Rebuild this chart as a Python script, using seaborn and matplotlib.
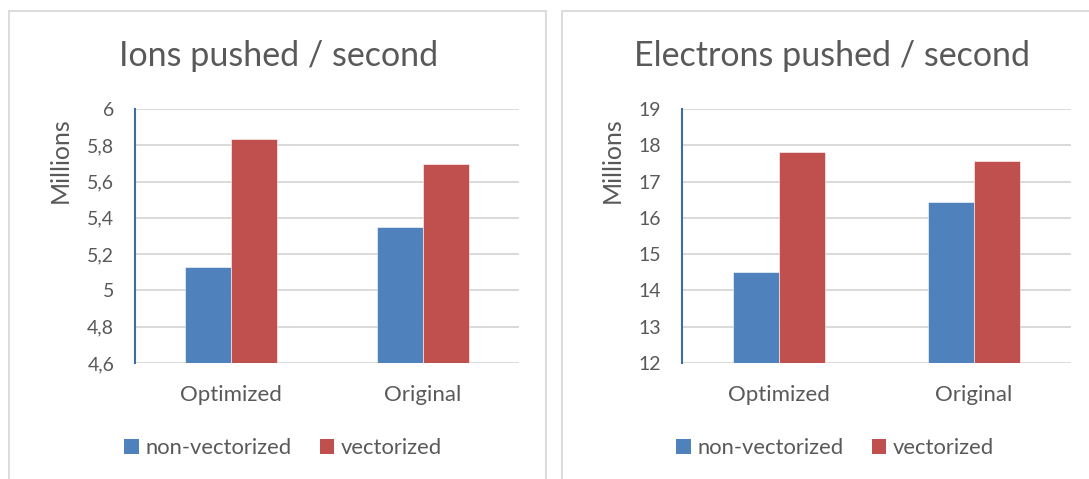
import matplotlib
matplotlib.use("Agg")
import matplotlib.pyplot as plt
import seaborn as sns
import pandas as pd
from matplotlib.patches import Rectangle, Patch
from matplotlib.ticker import FuncFormatter, MultipleLocator

# Throughput measurements (millions of particles pushed per second)
versions = ["Optimized", "Original"]
variants = ["non-vectorized", "vectorized"]
ions_nonvec = [5.13, 5.35]
ions_vec = [5.835, 5.695]
electrons_nonvec = [14.52, 16.43]
electrons_vec = [17.81, 17.58]

titles = ["Ions pushed / second", "Electrons pushed / second"]
ylabel = "Millions"

BLUE = "#4F81BD"
RED = "#C0504D"
TEXT = "#595959"
GRID = "#D9D9D9"
FRAME = "#D9D9D9"
SPINE = "#3E6DA6"

W, H = 1089, 479

sns.set_theme(style="white")
plt.rcParams["font.family"] = ["Lato", "DejaVu Sans"]

fig = plt.figure(figsize=(W / 100, H / 100), dpi=100)


def box(x0, y0, x1, y1):
    """Pixel box (top-left origin) -> figure fraction [left, bottom, width, height]."""
    return [x0 / W, 1 - y1 / H, (x1 - x0) / W, (y1 - y0) / H]


def long_table(nonvec, vec):
    rows = []
    for v, a, b in zip(versions, nonvec, vec):
        rows.append({"version": v, "variant": variants[0], "value": a})
        rows.append({"version": v, "variant": variants[1], "value": b})
    return pd.DataFrame(rows)


def comma_fmt(val, pos):
    return f"{val:g}".replace(".", ",")


panels = [
    dict(data=long_table(ions_nonvec, ions_vec), title=titles[0],
         axes=(135, 109, 519, 363), ylim=(4.6, 6.0), step=0.2,
         cx=279, ylab_x=60, leg_cx=283, frame=(8.6, 10.5, 546, 495)),
    dict(data=long_table(electrons_nonvec, electrons_vec), title=titles[1],
         axes=(682, 109, 1071, 363), ylim=(12, 19), step=1,
         cx=831.5, ylab_x=612, leg_cx=835, frame=(562, 10.5, 1110, 495)),
]

for p in panels:
    # chart-area frame
    fx0, fy0, fx1, fy1 = p["frame"]
    fig.patches.append(Rectangle((fx0 / W, 1 - fy1 / H), (fx1 - fx0) / W, (fy1 - fy0) / H,
                                 transform=fig.transFigure, fill=False,
                                 edgecolor=FRAME, linewidth=1.3, zorder=0))

    ax = fig.add_axes(box(*p["axes"]))
    sns.barplot(data=p["data"], x="version", y="value", hue="variant",
                hue_order=variants, order=versions, palette=[BLUE, RED],
                saturation=1, width=0.475, edgecolor="white", linewidth=0.4,
                legend=False, ax=ax)
    ax.set_xlim(-0.5, 1.5)
    ax.set_ylim(*p["ylim"])
    ax.yaxis.set_major_locator(MultipleLocator(p["step"]))
    ax.yaxis.set_major_formatter(FuncFormatter(comma_fmt))
    ax.yaxis.grid(True, color=GRID, linewidth=1.4)
    ax.set_axisbelow(True)
    for side in ("top", "right", "bottom"):
        ax.spines[side].set_visible(False)
    ax.spines["left"].set_color(SPINE)
    ax.spines["left"].set_linewidth(1.5)
    ax.spines["left"].set_zorder(5)
    ax.set_xlabel("")
    ax.set_ylabel("")
    ax.tick_params(axis="y", length=0, pad=15, labelsize=14, labelcolor=TEXT)
    ax.tick_params(axis="x", length=0, pad=16, labelsize=16, labelcolor=TEXT)

    fig.text(p["cx"] / W, 1 - 66 / H, p["title"], ha="center", va="baseline",
             fontsize=24.5, color=TEXT)
    fig.text(p["ylab_x"] / W, 1 - 160 / H, ylabel, rotation=90, ha="center",
             va="center", fontsize=18, color=TEXT)

    handles = [Patch(facecolor=BLUE, edgecolor="none", label=variants[0]),
               Patch(facecolor=RED, edgecolor="none", label=variants[1])]
    fig.legend(handles=handles, loc="center", ncol=2, frameon=False,
               bbox_to_anchor=(p["leg_cx"] / W, 1 - 448 / H),
               fontsize=15.8, labelcolor=TEXT, handlelength=0.65,
               handleheight=0.65, handletextpad=0.3, columnspacing=1.3)

fig.savefig("out.png", dpi=100, facecolor="white")
